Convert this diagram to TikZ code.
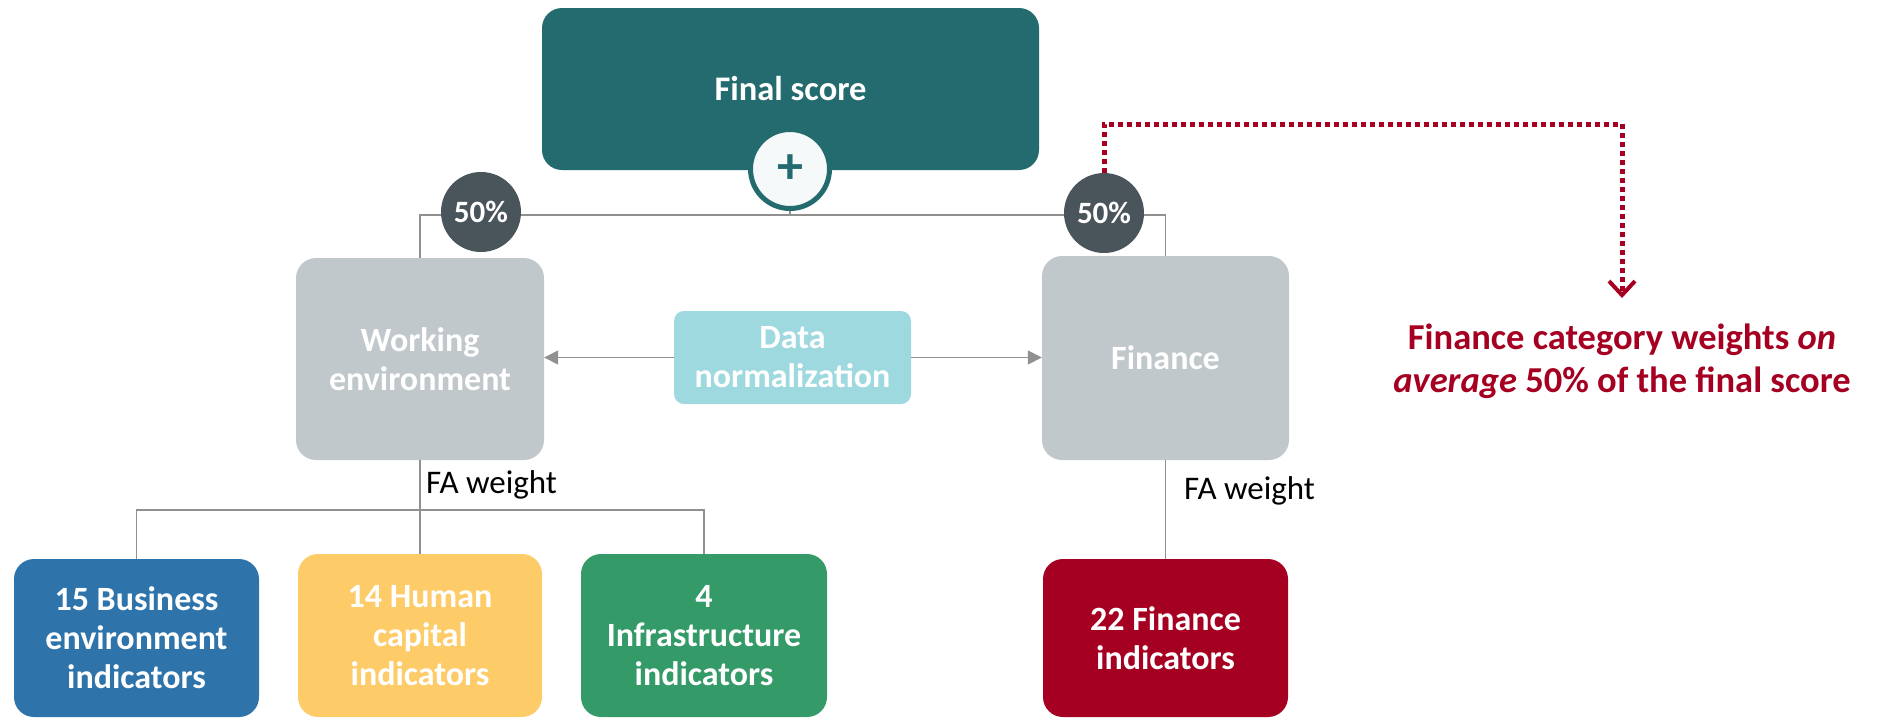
\documentclass[tikz,border=0pt]{standalone}
\usepackage{fontspec}
\setmainfont{Carlito}
\usetikzlibrary{arrows.meta}
\definecolor{scoreteal}{HTML}{236B6E}
\definecolor{pctgray}{HTML}{4A545B}
\definecolor{catgray}{HTML}{C0C8CB}
\definecolor{normcyan}{HTML}{9FD9E0}
\definecolor{bizblue}{HTML}{2E74AA}
\definecolor{humyellow}{HTML}{FECB69}
\definecolor{infgreen}{HTML}{349A68}
\definecolor{finred}{HTML}{A50021}
\definecolor{linegray}{HTML}{909090}
\tikzset{
  box/.style={rounded corners=20pt, align=center, text=white, inner sep=0pt,
    font=\bfseries\fontsize{34}{39}\selectfont},
  pct/.style={circle, fill=pctgray, text=white, minimum size=80pt, inner sep=0pt,
    font=\bfseries\fontsize{31}{34}\selectfont},
  link/.style={draw=linegray, line width=1.5pt},
  falabel/.style={anchor=west, inner sep=0pt, font=\fontsize{33}{38}\selectfont}
}
\begin{document}
\begin{tikzpicture}[x=1pt,y=-1pt]
\useasboundingbox (0,0) rectangle (1882,718);
% top
\node[box, fill=scoreteal, minimum width=497pt, minimum height=162pt,
  font=\bfseries\fontsize{34.5}{40}\selectfont] (final) at (790.5,89) {Final score};
\node[circle, fill=white!96!scoreteal, draw=scoreteal, line width=5pt, minimum size=79pt,
  inner sep=0pt, text=scoreteal, font=\bfseries\fontsize{52}{52}\selectfont] (plus) at (790,169) {+};
\coordinate (hub) at (790,215);
% categories
\node[box, fill=catgray, minimum width=248pt, minimum height=202pt] (work) at (420,359) {Working\\environment};
\node[box, fill=catgray, minimum width=247pt, minimum height=204pt] (fin) at (1165.5,358) {Finance};
\node[box, fill=normcyan, rounded corners=10pt, minimum width=237pt, minimum height=93pt] (norm) at (792.5,357.5) {Data\\normalization};
% indicators
\node[box, fill=bizblue, minimum width=245pt, minimum height=158pt] (biz) at (136.5,638) {15 Business\\environment\\indicators};
\node[box, fill=humyellow, minimum width=244pt, minimum height=163pt] (hum) at (420,635.5) {14 Human\\capital\\indicators};
\node[box, fill=infgreen, minimum width=246pt, minimum height=163pt] (infra) at (704,635.5) {4\\Infrastructure\\indicators};
\node[box, fill=finred, minimum width=245pt, minimum height=158pt] (finind) at (1165.5,638) {22 Finance\\indicators};
\coordinate (split) at (420,510);

\draw[link] (plus) -- (hub);
\draw[link] (work.north) |- (hub) -| (fin.north);
\draw[link] (work.south) -- (hum.north);
\draw[link] (biz.north) |- (split) -| (infra.north);
\draw[link] (fin.south) -- (finind.north);
\draw[link, -{Triangle[length=14pt,width=14pt]}] (norm.west) -- (norm.west -| work.east);
\draw[link, -{Triangle[length=14pt,width=14pt]}] (norm.east) -- (norm.east -| fin.west);

\node[pct] (pctwork) at (481,212) {50\%};
\node[pct] (pctfin) at (1104,213) {50\%};
\node[falabel] (fawork) at (426,485) {FA weight};
\node[falabel] (fafin) at (1184,491) {FA weight};

% note
\node[align=center, text=finred, inner sep=0pt, font=\bfseries\fontsize{36.5}{43}\selectfont]
  (note) at (1622,361) {Finance category weights \textit{on}\\\textit{average} 50\% of the final score};
\coordinate (turn) at (1622,124);
\coordinate (tip) at (1622,298);
\draw[finred, line width=5pt, dash pattern=on 5pt off 4pt,
  -{Straight Barb[length=14pt,width=26pt,line width=4pt]}] (pctfin.north) |- (turn) -- (tip);
\end{tikzpicture}
\end{document}
